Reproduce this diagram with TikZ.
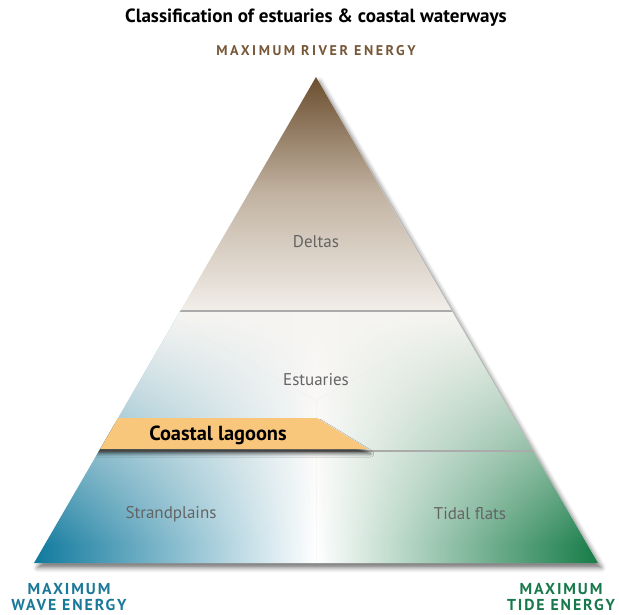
\documentclass[tikz,border=0pt]{standalone}
\usepackage{fontspec}
\setmainfont{PT Sans}
\usetikzlibrary{calc, shadows.blur, fadings}
\definecolor{riverbrown}{HTML}{6B4E2E}
\definecolor{deltamid}{HTML}{C2B3A2}
\definecolor{deltalow}{HTML}{F2EEE9}
\definecolor{waveblue}{HTML}{117A9E}
\definecolor{tidegreen}{HTML}{177C48}
\definecolor{wavetext}{HTML}{1A7898}
\definecolor{tidetext}{HTML}{17794B}
\definecolor{rivertext}{HTML}{765737}
\definecolor{zonegray}{HTML}{646464}
\definecolor{linegray}{HTML}{ABABAB}
\definecolor{lagoonfill}{HTML}{F9C77B}
\definecolor{haze}{HTML}{F7F5F2}
\tikzfading[name=fadedown, top color=transparent!0, bottom color=transparent!100]

\begin{document}
\begin{tikzpicture}[
       x = 0.03cm, y = -0.03cm,
energy/.style = {font=\bfseries\fontsize{13.5}{14}\selectfont\addfontfeatures{LetterSpace=12},
                 align=center, inner sep=0pt},
  zone/.style = {text=zonegray, font=\fontsize{14.5}{16}\selectfont},
divider/.style = {draw=linegray, line width=1.5pt},
  seam/.style = {draw=white!85!gray, line width=0.5pt, opacity=0.4}
                    ]
\useasboundingbox (0,0) rectangle (619,614);
% corners of the triangle
\coordinate (apex)   at (316,77);
\coordinate (wave)   at (34,563);
\coordinate (tide)   at (598,563);
\coordinate (centre) at (316,401);
% triangle and its shadow
\fill[white, blur shadow={shadow xshift=3pt, shadow yshift=-4pt,
      shadow blur radius=4pt, shadow opacity=55}]
    (apex) -- (wave) -- (tide) -- cycle;
\begin{scope}
    \clip (apex) -- (wave) -- (tide) -- cycle;
% river part
    \shade[top color=riverbrown, bottom color=deltalow, middle color=deltamid]
        (0,77) rectangle (619,311);
% wave and tide part
    \shade[left color=waveblue, right color=tidegreen, middle color=white]
        (34,311) rectangle (598,563);
    \fill[haze, path fading=fadedown] (0,311) rectangle (619,545);
% seams from the centre to the mid points
    \draw[seam] (centre) -- ($(apex)!0.5!(wave)$);
    \draw[seam] (centre) -- ($(apex)!0.5!(tide)$);
    \draw[seam] (centre) -- ($(wave)!0.5!(tide)$);
% dividers
    \draw[divider] (0,311) -- (619,311);
    \draw[divider] (0,451) -- (619,451);
% lagoon band
    \fill[lagoonfill, blur shadow={shadow xshift=2pt, shadow yshift=-4pt,
          shadow blur radius=3pt, shadow opacity=65}]
        (60,418) -- (317,418) -- (368,449) -- (60,449) -- cycle;
\end{scope}
% labels
\node (title) at (316,18) {\bfseries\fontsize{16.3}{18}\selectfont Classification of estuaries \& coastal waterways};
\node[energy, text=rivertext, font=\bfseries\fontsize{12}{13}\selectfont\addfontfeatures{LetterSpace=18}]
    (river) at (316,51) {MAXIMUM RIVER ENERGY};
\node[energy, text=wavetext] (wavelabel) at (69,597) {MAXIMUM\\WAVE ENERGY};
\node[energy, text=tidetext] (tidelabel) at (561,597) {MAXIMUM\\TIDE ENERGY};
\node[zone] (deltas)    at (316,242) {Deltas};
\node[zone] (estuaries) at (316,380) {Estuaries};
\node[zone] (strand)    at (171,514) {Strandplains};
\node[zone] (tidal)     at (470,514) {Tidal flats};
\node[font=\bfseries\fontsize{17.4}{19}\selectfont] (lagoons) at (218,435) {Coastal lagoons};
\end{tikzpicture}
\end{document}
